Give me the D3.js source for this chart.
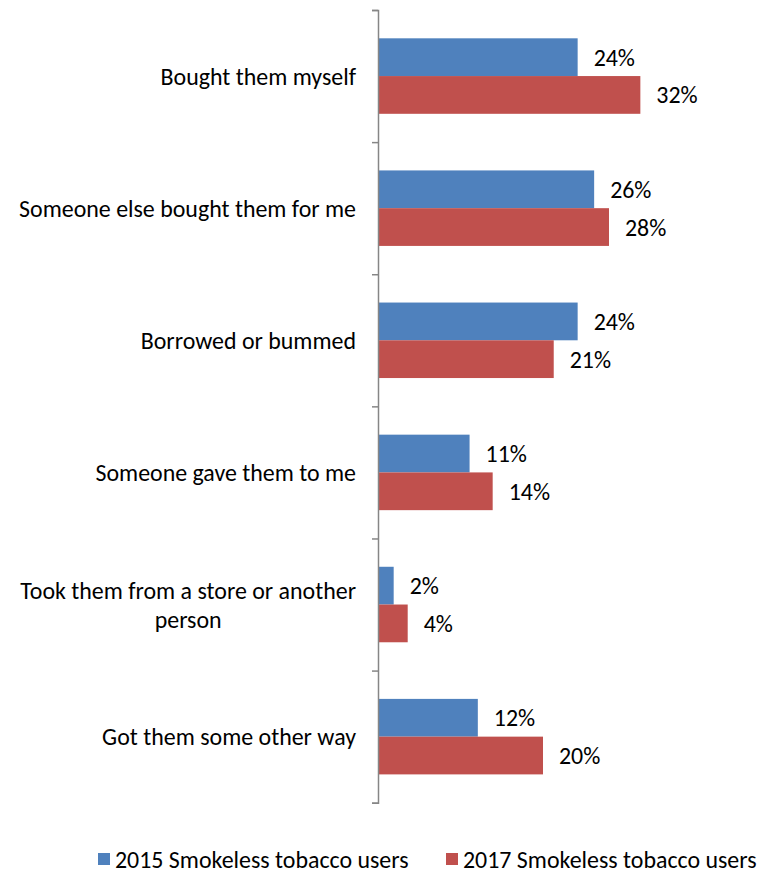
<!DOCTYPE html>
<html>
<head>
<meta charset="utf-8">
<script src="https://cdn.jsdelivr.net/npm/d3@7"></script>
<style>
  html, body { margin: 0; padding: 0; background: #fff; }
  svg { display: block; }
  text { font-family: Carlito, Lato, "Open Sans", sans-serif; fill: #000; }
</style>
</head>
<body>
<svg id="chart" width="762" height="872"></svg>
<script>
// ---- data ----
const categories = [
  "Bought them myself",
  "Someone else bought them for me",
  "Borrowed or bummed",
  "Someone gave them to me",
  "Took them from a store or another person",
  "Got them some other way"
];
const seriesNames = ["2015 Smokeless tobacco users", "2017 Smokeless tobacco users"];
const values2015 = [24.2, 26.2, 24.2, 11.1, 1.9, 12.1];
const values2017 = [31.8, 28.0, 21.3, 13.9, 3.6, 20.0];
const labels2015 = ["24%", "26%", "24%", "11%", "2%", "12%"];
const labels2017 = ["32%", "28%", "21%", "14%", "4%", "20%"];
const seriesColors = ["#4F81BD", "#C0504D"];

// ---- layout ----
const svg = d3.select("#chart");
const axisX = 378, plotTop = 10, plotBottom = 802.7;
const x = d3.scaleLinear().domain([0, 40]).range([axisX, axisX + 40 * 8.25]);
const y = d3.scaleBand().domain(categories).range([plotTop, plotBottom]).padding(0);
const ySub = d3.scaleBand().domain(seriesNames).range([0, y.bandwidth()])
  .paddingInner(0).paddingOuter(0.75);

// font fitting: target width of the longest single-line label
const probe = svg.append("text").attr("font-size", 24).text("Someone else bought them for me");
const fs = 24 * 337 / probe.node().getComputedTextLength();
probe.remove();

const rows = categories.map((c, i) => ({
  cat: c,
  vals: [
    { s: seriesNames[0], v: values2015[i], l: labels2015[i], c: seriesColors[0] },
    { s: seriesNames[1], v: values2017[i], l: labels2017[i], c: seriesColors[1] }
  ]
}));

// bars
const g = svg.append("g");
const groups = g.selectAll("g.cat").data(rows).join("g")
  .attr("class", "cat")
  .attr("transform", d => `translate(0,${y(d.cat)})`);

groups.selectAll("rect").data(d => d.vals).join("rect")
  .attr("x", x(0))
  .attr("y", d => ySub(d.s))
  .attr("width", d => x(d.v) - x(0))
  .attr("height", ySub.bandwidth())
  .attr("fill", d => d.c);

groups.selectAll("text.val").data(d => d.vals).join("text")
  .attr("class", "val")
  .attr("x", d => x(d.v) + 16)
  .attr("y", d => ySub(d.s) + ySub.bandwidth() / 2)
  .attr("dominant-baseline", "central")
  .attr("font-size", fs)
  .text(d => d.l);

// axis (ticks at category boundaries)
const yIdx = d3.scaleLinear().domain([0, categories.length]).range([plotTop, plotBottom]);
const axis = svg.append("g")
  .attr("transform", `translate(${axisX},0)`)
  .call(d3.axisLeft(yIdx).tickValues(d3.range(categories.length + 1))
    .tickSize(6).tickSizeOuter(6).tickFormat(""));
axis.select(".domain").attr("stroke", "#868686").attr("stroke-width", 1.5);
axis.selectAll(".tick line").attr("stroke", "#868686").attr("stroke-width", 1.5);

// category labels with wrapping
const labelRight = 356, maxW = 345, lineH = fs * 1.22;
categories.forEach(c => {
  const cy = y(c) + y.bandwidth() / 2;
  const t = svg.append("text").attr("font-size", fs).attr("dominant-baseline", "central");
  const words = c.split(" ");
  let lines = [], cur = [];
  words.forEach(w => {
    t.text([...cur, w].join(" "));
    if (t.node().getComputedTextLength() > maxW && cur.length) {
      lines.push(cur.join(" ")); cur = [w];
    } else cur.push(w);
  });
  lines.push(cur.join(" "));
  t.text(null);
  if (lines.length === 1) {
    t.attr("text-anchor", "end").attr("x", labelRight).attr("y", cy).text(lines[0]);
  } else {
    const widths = lines.map(l => { t.text(l); return t.node().getComputedTextLength(); });
    t.text(null);
    const cx = labelRight - d3.max(widths) / 2;
    t.attr("text-anchor", "middle");
    lines.forEach((l, k) => {
      t.append("tspan").attr("x", cx)
        .attr("y", cy + (k - (lines.length - 1) / 2) * lineH)
        .text(l);
    });
  }
});

// legend
const legendX = [98, 446];
const leg = svg.append("g").selectAll("g").data(seriesNames).join("g")
  .attr("transform", (d, i) => `translate(${legendX[i]},853)`);
leg.append("rect").attr("width", 12).attr("height", 12)
  .attr("fill", (d, i) => seriesColors[i]);
leg.append("text").attr("x", 17).attr("y", 6)
  .attr("dominant-baseline", "central").attr("font-size", fs)
  .text(d => d);
</script>
</body>
</html>
